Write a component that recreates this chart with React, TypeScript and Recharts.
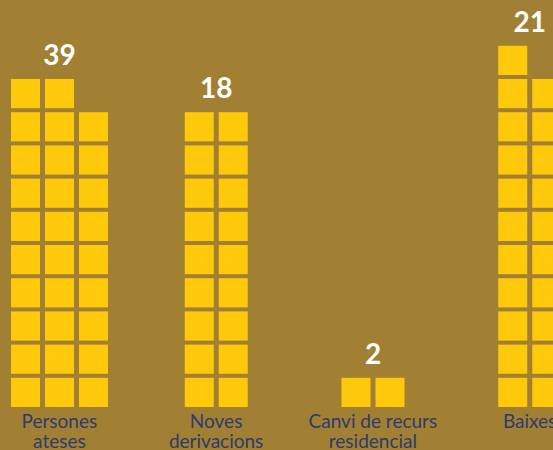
import { BarChart, Bar, XAxis, YAxis, LabelList } from 'recharts'

const categories = ['Persones ateses', 'Noves derivacions', 'Canvi de recurs residencial', 'Baixes']
const tickLines = [['Persones', 'ateses'], ['Noves', 'derivacions'], ['Canvi de recurs', 'residencial'], ['Baixes']]
const totals = [39, 18, 2, 21]
// squares per column of each waffle block
const columnSquares = [[10, 10, 9], [9, 9], [1, 1], [11, 10]]

const data = categories.map((category, i) => ({
  category,
  total: totals[i],
  columns: columnSquares[i],
  rows: Math.max(...columnSquares[i]),
}))

const BG = '#A17F33'
const SQUARE = '#FFC90B'
const TEXT = '#2C3C6E'
const FONT = 'Lato, "Open Sans", sans-serif'

const SQ_W = 29
const PITCH_X = 34
const GAP_Y = 4

function WaffleShape(props: any) {
  const { x, y, width, height, payload } = props
  const cols: number[] = payload.columns
  const unit = height / payload.rows
  const blockW = cols.length * PITCH_X - (PITCH_X - SQ_W)
  const left = x + width / 2 - blockW / 2
  const bottom = y + height
  const rects: any[] = []
  cols.forEach((n, j) => {
    for (let r = 0; r < n; r++) {
      rects.push(
        <rect
          key={`${j}-${r}`}
          x={left + j * PITCH_X}
          y={bottom - (r + 1) * unit + GAP_Y}
          width={SQ_W}
          height={unit - GAP_Y}
          fill={SQUARE}
        />
      )
    }
  })
  return <g>{rects}</g>
}

function TotalLabel(props: any) {
  const { x, y, width, value } = props
  return (
    <text x={x + width / 2} y={y - 10} textAnchor="middle" fill="#fff" fontSize={28} fontWeight={700} fontFamily={FONT}>
      {value}
    </text>
  )
}

function CategoryTick(props: any) {
  const { x, y, payload } = props
  const lines = tickLines[payload.index] || [payload.value]
  return (
    <text x={x} y={y} textAnchor="middle" fill={TEXT} fontSize={19} fontFamily={FONT}>
      {lines.map((line, i) => (
        <tspan key={i} x={x} dy={i === 0 ? 21 : 19.5}>
          {line}
        </tspan>
      ))}
    </text>
  )
}

export default function App() {
  return (
    <div style={{ position: 'absolute', left: 0, top: 0, width: 553, height: 450, overflow: 'hidden', background: BG }}>
      <div style={{ position: 'absolute', left: -19, top: 0 }}>
        <BarChart width={627} height={450} data={data} margin={{ top: 8.6, right: 0, bottom: 0, left: 0 }} barCategoryGap={0}>
          <XAxis
            dataKey="category"
            axisLine={false}
            tickLine={false}
            tickSize={0}
            tickMargin={0}
            interval={0}
            height={43}
            tick={<CategoryTick />}
          />
          <YAxis hide domain={[0, 12]} />
          <Bar dataKey="rows" shape={<WaffleShape />} isAnimationActive={false}>
            <LabelList dataKey="total" content={<TotalLabel />} />
          </Bar>
        </BarChart>
      </div>
    </div>
  )
}
